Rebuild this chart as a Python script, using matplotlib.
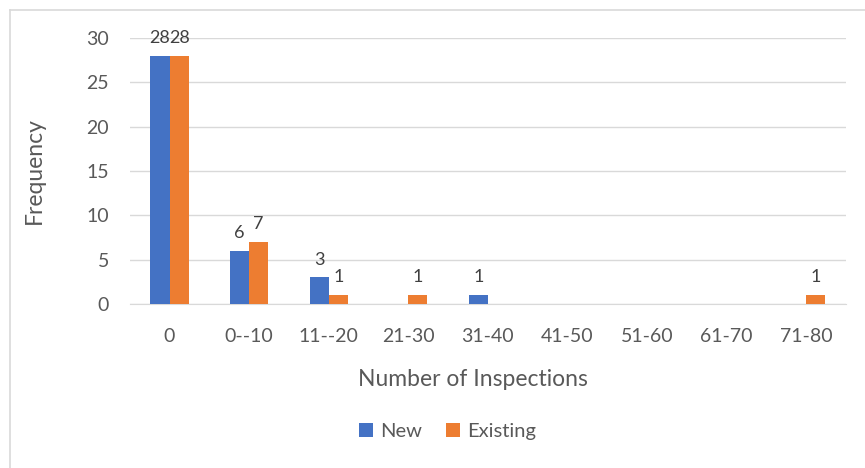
import matplotlib
matplotlib.use("Agg")
import matplotlib.pyplot as plt
import numpy as np
from matplotlib.lines import Line2D

categories = ["0", "0--10", "11--20", "21-30", "31-40", "41-50", "51-60", "61-70", "71-80"]
new_counts = [28, 6, 3, 0, 1, 0, 0, 0, 0]
existing_counts = [28, 7, 1, 1, 0, 0, 0, 0, 1]

blue = "#4472C4"
orange = "#ED7D31"
text_color = "#595959"

plt.rcParams["font.family"] = ["Lato", "DejaVu Sans"]

fig = plt.figure(figsize=(8.65, 4.68), dpi=100)
ax = fig.add_axes([0.150, 0.3504, 0.828, 0.5684])

x = np.arange(len(categories))
w = 0.24
b1 = ax.bar(x - w / 2, new_counts, w, color=blue, label="New", zorder=3)
b2 = ax.bar(x + w / 2, existing_counts, w, color=orange, label="Existing", zorder=3)

for bars, vals in ((b1, new_counts), (b2, existing_counts)):
    for rect, v in zip(bars, vals):
        if v:
            ax.text(rect.get_x() + rect.get_width() / 2, v + 1.1, str(v),
                    ha="center", va="bottom", fontsize=13, color="#404040")

ax.set_xlim(-0.5, len(categories) - 0.5)
ax.set_ylim(0, 30)
ax.set_yticks(range(0, 31, 5))
ax.set_xticks(x)
ax.set_xticklabels(categories)
ax.tick_params(axis="both", length=0, labelsize=14, colors=text_color)
ax.tick_params(axis="x", pad=17)
ax.tick_params(axis="y", pad=15)
ax.yaxis.grid(True, color="#D9D9D9", linewidth=1, zorder=0)
for s in ("top", "right", "left"):
    ax.spines[s].set_visible(False)
ax.spines["bottom"].set_color("#D9D9D9")

ax.set_xlabel("Number of Inspections", fontsize=16.5, color=text_color)
ax.xaxis.set_label_coords(0.479, -0.245)
ax.set_ylabel("Frequency", fontsize=16.5, color=text_color)
ax.yaxis.set_label_coords(-0.118, 0.5)

ax.legend(loc="center", bbox_to_anchor=(0.444, -0.48), ncol=2, frameon=False,
          fontsize=14.5, labelcolor=text_color, handlelength=0.7, handleheight=0.7,
          handletextpad=0.35, columnspacing=1.2)

# chart border
fig.add_artist(Line2D([10 / 865, 1.0], [1 - 10 / 468, 1 - 10 / 468], transform=fig.transFigure,
                      color="#D9D9D9", linewidth=1.2))
fig.add_artist(Line2D([10 / 865, 10 / 865], [0, 1 - 10 / 468], transform=fig.transFigure,
                      color="#D9D9D9", linewidth=1.2))

fig.savefig("out.png", dpi=100)
